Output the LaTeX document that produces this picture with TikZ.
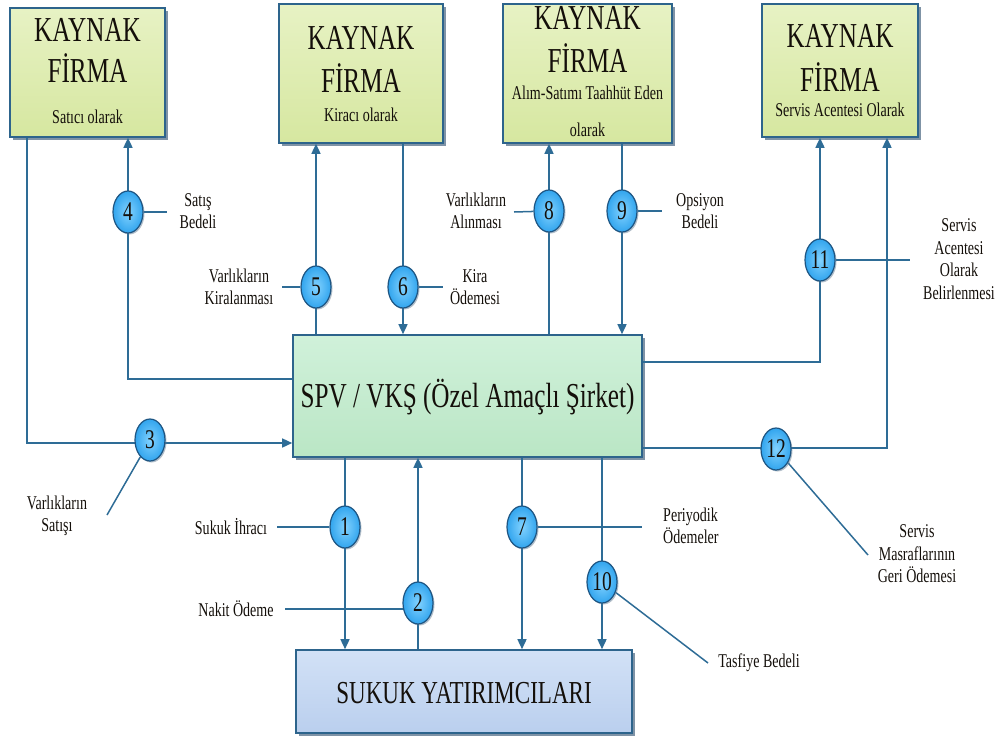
\documentclass[tikz,border=0pt]{standalone}
\usepackage{fontspec}
\setmainfont{Liberation Serif}
\usetikzlibrary{arrows.meta,shapes.geometric,shadows}
\pgfdeclarelayer{front}
\pgfsetlayers{main,front}

% narrow setting of a line of text
\newcommand{\nrw}[1]{\scalebox{0.72}[1]{#1}}

\definecolor{linkblue}{RGB}{46,108,150}
\definecolor{edgeblue}{RGB}{45,100,140}
\definecolor{firmtop}{RGB}{231,242,196}
\definecolor{firmbot}{RGB}{214,231,160}
\definecolor{spvtop}{RGB}{208,241,218}
\definecolor{spvbot}{RGB}{186,230,197}
\definecolor{invtop}{RGB}{210,225,246}
\definecolor{invbot}{RGB}{186,207,238}
\definecolor{stepin}{RGB}{130,210,255}
\definecolor{stepout}{RGB}{50,165,238}
\definecolor{stepedge}{RGB}{30,85,130}
\definecolor{shadowc}{RGB}{105,128,150}
\definecolor{inkc}{RGB}{20,15,10}

\tikzset{
  box/.style={draw=edgeblue, line width=1.6pt, inner sep=0pt,
    drop shadow={shadow xshift=3pt, shadow yshift=-3pt, fill=shadowc, opacity=0.85}},
  firm/.style={box, top color=firmtop, bottom color=firmbot},
  spvbox/.style={box, top color=spvtop, bottom color=spvbot},
  invbox/.style={box, top color=invtop, bottom color=invbot},
  num/.style={ellipse, draw=stepedge, line width=1.2pt, inner sep=0pt,
    minimum width=30pt, minimum height=42pt, inner color=stepin, outer color=stepout,
    font=\fontsize{27}{27}\selectfont, text=inkc,
    drop shadow={shadow xshift=1.5pt, shadow yshift=-1.5pt, fill=shadowc, opacity=0.5}},
  link/.style={draw=linkblue, line width=1.5pt},
  arr/.style={link, -{Triangle[length=10pt,width=9pt]}},
  big/.style={font=\fontsize{35}{40}\selectfont, text=inkc, inner sep=0pt, anchor=base},
  small/.style={font=\fontsize{19.5}{22.5}\selectfont, text=inkc, inner sep=0pt, anchor=base},
  lab/.style={font=\fontsize{19.5}{22.5}\selectfont, text=inkc, align=center, inner sep=0pt},
}

\begin{document}
\begin{tikzpicture}[x=1pt, y=-1pt]
\useasboundingbox (0,0) rectangle (1000,738);

% numbered steps, kept above the connectors
\begin{pgfonlayer}{front}
\node[num] (c1)  at (345,527) {\nrw{1}};
\node[num] (c2)  at (418,603) {\nrw{2}};
\node[num] (c3)  at (150,440) {\nrw{3}};
\node[num] (c4)  at (128,212) {\nrw{4}};
\node[num] (c5)  at (316,287) {\nrw{5}};
\node[num] (c6)  at (403,287) {\nrw{6}};
\node[num] (c7)  at (522,527) {\nrw{7}};
\node[num] (c8)  at (549,211) {\nrw{8}};
\node[num] (c9)  at (622,211) {\nrw{9}};
\node[num] (c10) at (602,582) {\nrw{10}};
\node[num] (c11) at (820,260) {\nrw{11}};
\node[num] (c12) at (776,449) {\nrw{12}};
\end{pgfonlayer}

% source firm boxes
\node[firm, minimum width=155pt, minimum height=129pt] (k1) at (87.5,72.5) {};
\node[big] (k1a) at (87.5,42) {\nrw{KAYNAK}};
\node[big] (k1b) at (87.5,83) {\nrw{FİRMA}};
\node[small] (k1c) at (87.5,124) {\nrw{Satıcı olarak}};

\node[firm, minimum width=164pt, minimum height=139pt] (k2) at (361,73.5) {};
\node[big] (k2a) at (361,50) {\nrw{KAYNAK}};
\node[big] (k2b) at (361,93) {\nrw{FİRMA}};
\node[small] (k2c) at (361,122) {\nrw{Kiracı olarak}};

\node[firm, minimum width=169pt, minimum height=139pt] (k3) at (587.5,73.5) {};
\node[big] (k3a) at (587.5,30) {\nrw{KAYNAK}};
\node[big] (k3b) at (587.5,73) {\nrw{FİRMA}};
\node[small] (k3c) at (587.5,100) {\nrw{Alım-Satımı Taahhüt Eden}};
\node[small] (k3d) at (587.5,137) {\nrw{olarak}};

\node[firm, minimum width=156pt, minimum height=133pt] (k4) at (840,70.5) {};
\node[big] (k4a) at (840,48) {\nrw{KAYNAK}};
\node[big] (k4b) at (840,92) {\nrw{FİRMA}};
\node[small] (k4c) at (840,117) {\nrw{Servis Acentesi Olarak}};

% special purpose vehicle and investors
\node[spvbox, minimum width=349pt, minimum height=122pt] (spv) at (467.5,396) {};
\node[big] (spvt) at (467.5,407) {\nrw{SPV / VKŞ (Özel Amaçlı Şirket)}};

\node[invbox, minimum width=336pt, minimum height=83pt] (sk) at (464,691.5) {};
\node[big, font=\fontsize{32}{36}\selectfont] (skt) at (464,703) {\nrw{SUKUK YATIRIMCILARI}};

% bend points and leader ends
\coordinate (p3) at (27,443);
\coordinate (p4) at (128,379);
\coordinate (p11) at (820,362);
\coordinate (p12) at (887,448);
\coordinate (e1) at (277,527);
\coordinate (e2) at (285,609);
\coordinate (e3) at (107,515);
\coordinate (e4) at (167,212);
\coordinate (e5) at (282,287);
\coordinate (e6) at (443,287);
\coordinate (e7) at (642,527);
\coordinate (e8) at (514,212);
\coordinate (e9) at (662,211);
\coordinate (e10) at (708,663);
\coordinate (e11) at (910,260);
\coordinate (e12) at (868,555);

% flows
\draw[arr] (k1.south -| p3) -- (p3) -- (spv.west |- p3);
\draw[arr] (spv.west |- p4) -- (p4) -- (k1.south -| p4);
\draw[arr] (spv.north -| c5) -- (k2.south -| c5);
\draw[arr] (k2.south -| c6) -- (spv.north -| c6);
\draw[arr] (spv.north -| c8) -- (k3.south -| c8);
\draw[arr] (k3.south -| c9) -- (spv.north -| c9);
\draw[arr] (spv.east |- p11) -- (p11) -- (k4.south -| p11);
\draw[arr] (spv.east |- p12) -- (p12) -- (k4.south -| p12);
\draw[arr] (spv.south -| c1) -- (sk.north -| c1);
\draw[arr] (sk.north -| c2) -- (spv.south -| c2);
\draw[arr] (spv.south -| c7) -- (sk.north -| c7);
\draw[arr] (spv.south -| c10) -- (sk.north -| c10);

% leaders to the captions
\draw[link] (c1) -- (e1);
\draw[link] (e2) -- (e2 -| c2);
\draw[link] (c3) -- (e3);
\draw[link] (c4) -- (e4);
\draw[link] (c5) -- (e5);
\draw[link] (c6) -- (e6);
\draw[link] (c7) -- (e7);
\draw[link] (c8) -- (e8);
\draw[link] (c9) -- (e9);
\draw[link] (c10) -- (e10);
\draw[link] (c11) -- (e11);
\draw[link] (c12) -- (e12);

% captions
\node[lab] (l1) at (231,527) {\nrw{Sukuk İhracı}};
\node[lab] (l2) at (236,609) {\nrw{Nakit Ödeme}};
\node[lab] (l3) at (57,516) {\nrw{Varlıkların}\\\nrw{Satışı}};
\node[lab] (l4) at (198,211) {\nrw{Satış}\\\nrw{Bedeli}};
\node[lab] (l5) at (239,287) {\nrw{Varlıkların}\\\nrw{Kiralanması}};
\node[lab] (l6) at (475,287) {\nrw{Kira}\\\nrw{Ödemesi}};
\node[lab, align=left, anchor=west] (l7) at (663,526) {\nrw{Periyodik}\\\nrw{Ödemeler}};
\node[lab] (l8) at (476,211) {\nrw{Varlıkların}\\\nrw{Alınması}};
\node[lab] (l9) at (700,211) {\nrw{Opsiyon}\\\nrw{Bedeli}};
\node[lab] (l10) at (759,663) {\nrw{Tasfiye Bedeli}};
\node[lab] (l11) at (959,259) {\nrw{Servis}\\\nrw{Acentesi}\\\nrw{Olarak}\\\nrw{Belirlenmesi}};
\node[lab] (l12) at (917,554) {\nrw{Servis}\\\nrw{Masraflarının}\\\nrw{Geri Ödemesi}};
\end{tikzpicture}
\end{document}
